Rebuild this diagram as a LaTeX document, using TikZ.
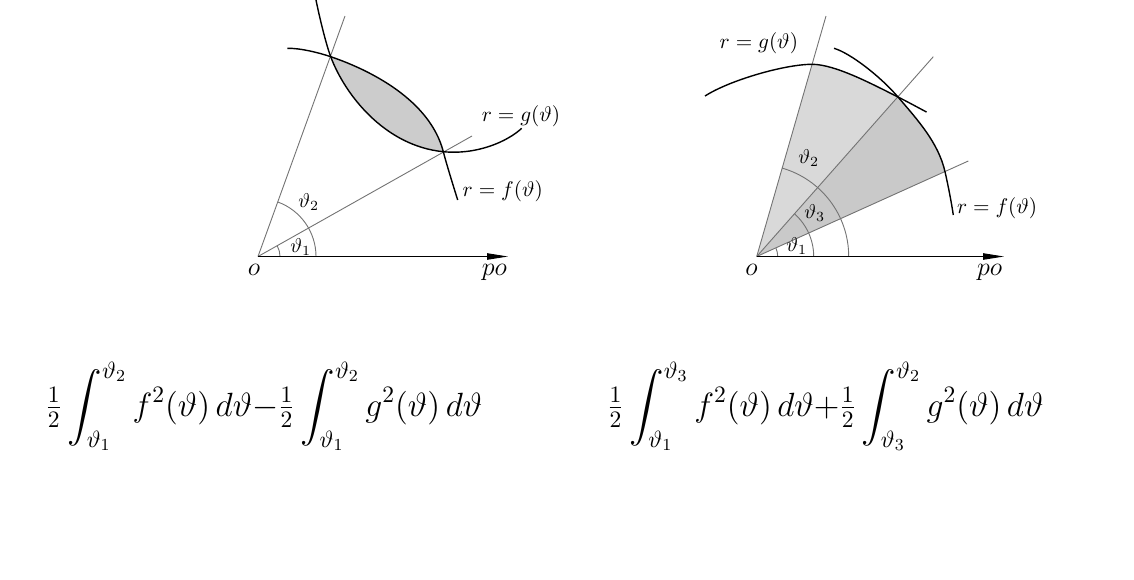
\RequirePackage{fix-cm}
\documentclass[tikz,border=0pt]{standalone}
\usepackage{amsmath}
\usetikzlibrary{arrows.meta}
\begin{document}
\begin{tikzpicture}[x=0.5pt,y=-0.5pt,
  curve/.style={line width=0.7pt, black},
  ray/.style={line width=0.45pt, black!55},
  angarc/.style={line width=0.45pt, black!55},
  axisline/.style={line width=0.5pt, black, -{Triangle[length=10.5pt,width=3.2pt]}},
  lensfill/.style={fill=black!20},
  lightfill/.style={fill=black!15},
  darkfill/.style={fill=black!21},
  lbl/.style={inner sep=0pt, anchor=base west, font=\fontsize{10.6}{12}\selectfont},
  alabel/.style={inner sep=0pt, anchor=base west, font=\fontsize{10}{12}\selectfont},
  biglbl/.style={inner sep=0pt, anchor=base west, font=\fontsize{13}{15}\selectfont},
  formula/.style={inner sep=0pt, anchor=base west, font=\fontsize{16.8}{20}\selectfont}]
\useasboundingbox (0,0) rectangle (1134,579);

% ---------------- left diagram ----------------
\coordinate (O1) at (258,256.5);
\coordinate (X1) at (508,256.5);
\coordinate (A1) at (472,136);
\coordinate (B1) at (345,16);
\coordinate (P1) at (330.7,56.7);
\coordinate (P2) at (443.3,151.7);

\fill[lensfill] (P1) .. controls (370,70) and (430,100) .. (P2)
  .. controls (385,146) and (345,95) .. (P1) -- cycle;

\draw[ray] (O1) -- (A1);
\draw[ray] (O1) -- (B1);
\draw[angarc] (O1) ++(22,0) arc[start angle=0,end angle=-29.38,radius=22];
\draw[angarc] (O1) ++(58,0) arc[start angle=0,end angle=-70.11,radius=58];

\draw[curve] (316,0) .. controls (319,15) and (325.7,43.3) .. (P1)
  .. controls (345,95) and (385,146) .. (P2)
  .. controls (478,155) and (508,141) .. (521.7,128.3);
\draw[curve] (287.3,48.3) .. controls (300,48) and (319,52.7) .. (P1)
  .. controls (370,70) and (430,100) .. (P2)
  .. controls (446.5,164) and (453,185) .. (457.7,200);

\draw[axisline] (O1) -- (X1);

\node[lbl] (g1) at (481.5,121.5) {$r=g(\vartheta)$};
\node[lbl] (f1) at (462.3,196.5) {$r=f(\vartheta)$};
\node[biglbl] (o1) at (247.5,275.5) {$o$};
\node[biglbl] (po1) at (481.5,275.5) {$po$};
\node[alabel] (t21) at (298,207.5) {$\vartheta_2$};
\node[alabel] (t11) at (290,252) {$\vartheta_1$};

% ---------------- right diagram ----------------
\coordinate (O2) at (756.7,256.5);
\coordinate (X2) at (1004,256.5);
\coordinate (C1) at (968.3,161);
\coordinate (C3) at (933.3,56.7);
\coordinate (C2) at (826,16);
\coordinate (Q) at (812.1,64.3);
\coordinate (R) at (898,97);
\coordinate (S) at (945,171.7);

\fill[lightfill] (O2) -- (Q) .. controls (835,64.3) and (872,84) .. (R) -- cycle;
\fill[darkfill] (O2) -- (R) .. controls (917.5,119.8) and (938.3,142.5) .. (S) -- cycle;

\draw[ray] (O2) -- (C1);
\draw[ray] (O2) -- (C3);
\draw[ray] (O2) -- (C2);
\draw[angarc] (O2) ++(21,0) arc[start angle=0,end angle=-24.29,radius=21];
\draw[angarc] (O2) ++(57,0) arc[start angle=0,end angle=-48.53,radius=57];
\draw[angarc] (O2) ++(92,0) arc[start angle=0,end angle=-73.93,radius=92];

\draw[curve] (705,96) .. controls (730,80) and (785,64.3) .. (Q)
  .. controls (835,64.3) and (872,84) .. (R)
  .. controls (907,101.5) and (917,107) .. (926.5,112);
\draw[curve] (834,48.3) .. controls (850,53) and (880,76) .. (R)
  .. controls (917.5,119.8) and (938.3,142.5) .. (S)
  .. controls (948,185) and (951,200) .. (953.3,215);

\draw[axisline] (O2) -- (X2);

\node[lbl] (g2) at (719.3,48) {$r=g(\vartheta)$};
\node[lbl] (f2) at (956.7,213) {$r=f(\vartheta)$};
\node[biglbl] (o2) at (745,275.5) {$o$};
\node[biglbl] (po2) at (976.7,275.5) {$po$};
\node[alabel] (t22) at (798,163) {$\vartheta_2$};
\node[alabel] (t32) at (804,218) {$\vartheta_3$};
\node[alabel] (t12) at (786,251) {$\vartheta_1$};

% ---------------- formulas ----------------
\node[formula] (F1) at (45,416) {$\tfrac12\displaystyle\int_{\vartheta_1}^{\vartheta_2} f^2(\vartheta)\,d\vartheta{-}\tfrac12\int_{\vartheta_1}^{\vartheta_2} g^2(\vartheta)\,d\vartheta$};
\node[formula] (F2) at (606.7,416) {$\tfrac12\displaystyle\int_{\vartheta_1}^{\vartheta_3} f^2(\vartheta)\,d\vartheta{+}\tfrac12\int_{\vartheta_3}^{\vartheta_2} g^2(\vartheta)\,d\vartheta$};
\end{tikzpicture}
\end{document}
